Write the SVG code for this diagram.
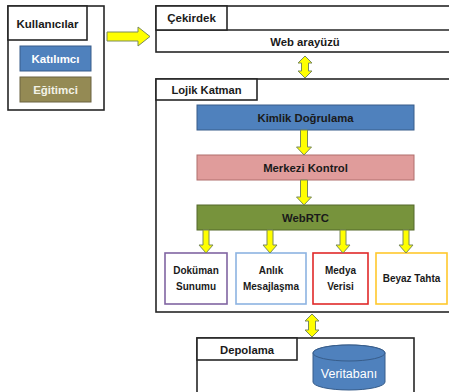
<svg xmlns="http://www.w3.org/2000/svg" width="449" height="392" viewBox="0 0 449 392">
<style>
.frame{fill:#fff;stroke:#262626;stroke-width:1.6}
.t{font-family:"Liberation Sans",Arial,sans-serif;font-weight:bold;fill:#1a1a1a;text-anchor:middle}
.w{fill:#fff}
.arr{fill:#ffff00;stroke:#7a8a5a;stroke-width:1;stroke-linejoin:miter}
</style>
<rect width="449" height="392" fill="#fff"/>
<g id="kullanicilar">
<rect class="frame" x="8" y="6" width="96" height="104"/>
<rect class="frame" x="8" y="6" width="79" height="34"/>
<text class="t" x="47.5" y="27.5" font-size="11.5">Kullanıcılar</text>
</g>
<g id="katilimci">
<rect x="20" y="46" width="71" height="25" fill="#4f81bd" stroke="#385d8a" stroke-width="1"/>
<text class="t w" x="55.5" y="62.5" font-size="11.5">Katılımcı</text>
</g>
<g id="egitimci">
<rect x="20" y="77" width="71" height="25" fill="#948a54" stroke="#6b6340" stroke-width="1"/>
<text class="t" x="55.5" y="93.5" font-size="11.5" fill="#f2f2e6" style="fill:#f2f2e6">Eğitimci</text>
</g>
<g id="cekirdek">
<rect class="frame" x="156" y="6" width="300" height="46"/>
<line x1="156" y1="30" x2="449" y2="30" stroke="#262626" stroke-width="1.6"/>
<rect class="frame" x="156" y="6" width="71" height="24"/>
<text class="t" x="191.5" y="22" font-size="11.5">Çekirdek</text>
</g>
<g id="web-arayuzu">
<text class="t" x="305" y="45.5" font-size="11.3">Web arayüzü</text>
</g>
<g id="lojik-katman">
<rect class="frame" x="156" y="79" width="300" height="233"/>
<rect class="frame" x="156" y="79" width="101" height="21"/>
<text class="t" x="206.5" y="94" font-size="11.2">Lojik Katman</text>
</g>
<g id="kimlik">
<rect x="197" y="105" width="217" height="25" fill="#4f81bd" stroke="#385d8a" stroke-width="1"/>
<text class="t" x="305.5" y="121.5" font-size="11.3">Kimlik Doğrulama</text>
</g>
<g id="merkezi">
<rect x="197" y="155" width="217" height="25" fill="#e09c9b" stroke="#b06e6d" stroke-width="1"/>
<text class="t" x="305.5" y="171.5" font-size="11.3">Merkezi Kontrol</text>
</g>
<g id="webrtc">
<rect x="197" y="205" width="217" height="25" fill="#77933c" stroke="#55692b" stroke-width="1"/>
<text class="t" x="305.5" y="221.5" font-size="11.3">WebRTC</text>
</g>
<g id="dokuman">
<rect x="165" y="253" width="62" height="51" fill="#fff" stroke="#8064a2" stroke-width="1.6"/>
<text class="t" x="196" y="274" font-size="10">Doküman</text>
<text class="t" x="196" y="290" font-size="10">Sunumu</text>
</g>
<g id="anlik">
<rect x="236" y="253" width="70" height="51" fill="#fff" stroke="#8db3e2" stroke-width="1.6"/>
<text class="t" x="271" y="274" font-size="10">Anlık</text>
<text class="t" x="271" y="290" font-size="10">Mesajlaşma</text>
</g>
<g id="medya">
<rect x="313" y="253" width="55" height="51" fill="#fff" stroke="#e02828" stroke-width="1.6"/>
<text class="t" x="340.5" y="274" font-size="10">Medya</text>
<text class="t" x="340.5" y="290" font-size="10">Verisi</text>
</g>
<g id="beyaz">
<rect x="376" y="253" width="71" height="51" fill="#fff" stroke="#ffc82c" stroke-width="1.6"/>
<text class="t" x="411.5" y="282" font-size="10">Beyaz Tahta</text>
</g>
<g id="depolama">
<rect class="frame" x="197" y="338" width="217" height="70"/>
<rect class="frame" x="197" y="338" width="100" height="22"/>
<text class="t" x="247" y="353.5" font-size="11.3">Depolama</text>
</g>
<g id="veritabani">
<path d="M313,353 L313,382 A36,8 0 0 0 385,382 L385,353 A36,8 0 0 0 313,353 Z" fill="#4f81bd" stroke="#385d8a" stroke-width="1"/>
<ellipse cx="349" cy="353" rx="36" ry="8" fill="#4f81bd" stroke="#385d8a" stroke-width="1"/>
<text x="349" y="378" font-family="'Liberation Sans',Arial,sans-serif" font-size="12.5" fill="#fff" text-anchor="middle">Veritabanı</text>
</g>
<g id="connectors">
<polygon class="arr" points="107,32 138,32 138,27 150,36.5 138,46 138,41 107,41"/>
<polygon class="arr" points="305,56 312,63 308.5,63 308.5,71 312,71 305,78 298,71 301.5,71 301.5,63 298,63"/>
<polygon class="arr" points="300.5,130 307.5,130 307.5,147 311.5,147 304,155 296.5,147 300.5,147"/>
<polygon class="arr" points="300.5,180 307.5,180 307.5,197 311.5,197 304,205 296.5,197 300.5,197"/>
<polygon class="arr" points="203,230 209,230 209,245 213,245 206,253 199,245 203,245"/>
<polygon class="arr" points="267,230 273,230 273,245 277,245 270,253 263,245 267,245"/>
<polygon class="arr" points="340,230 346,230 346,245 350,245 343,253 336,245 340,245"/>
<polygon class="arr" points="403,230 409,230 409,245 413,245 406,253 399,245 403,245"/>
<polygon class="arr" points="312,314 319,321 315.5,321 315.5,330 319,330 312,337 305,330 308.5,330 308.5,321 305,321"/>
</g>
</svg>
